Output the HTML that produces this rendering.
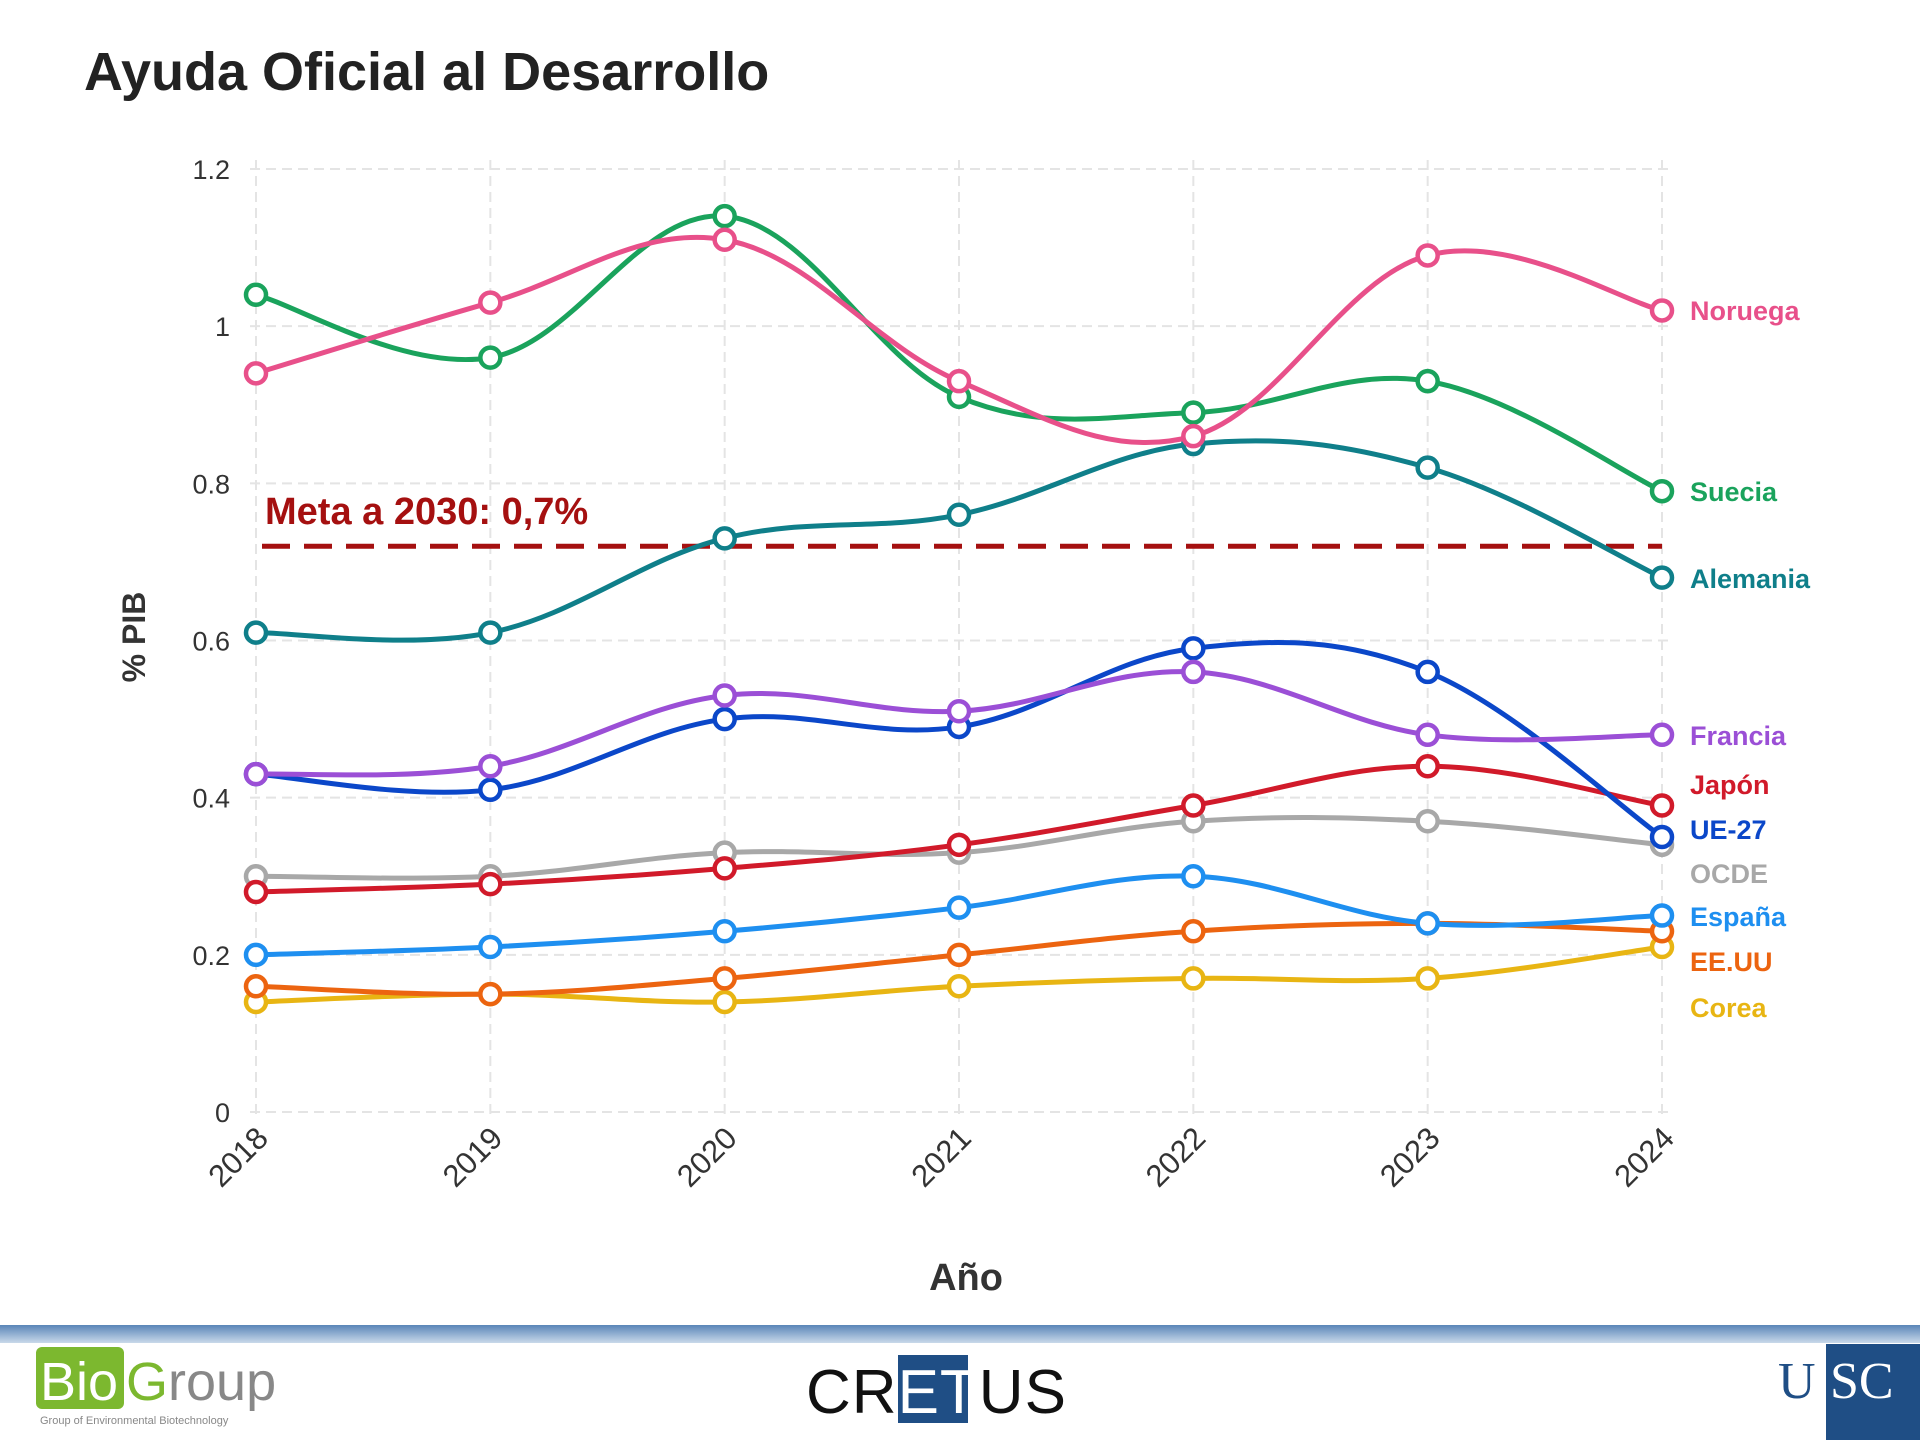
<!DOCTYPE html>
<html><head><meta charset="utf-8"><style>
body{margin:0;background:#fff;width:1920px;height:1440px;overflow:hidden;font-family:"Liberation Sans",sans-serif}
</style></head><body>
<svg width="1920" height="1440" xmlns="http://www.w3.org/2000/svg">
<text x="84" y="90" font-size="54" font-weight="bold" fill="#222">Ayuda Oficial al Desarrollo</text>
<g id="grid"></g><g id="axes"></g><g id="series"></g><g id="labels"></g>
<text transform="translate(145,637) rotate(-90)" text-anchor="middle" font-size="32" font-weight="bold" fill="#333">% PIB</text>
<text x="966" y="1290" text-anchor="middle" font-size="38" font-weight="bold" fill="#333">Año</text>
<defs><linearGradient id="band" x1="0" y1="0" x2="0" y2="1"><stop offset="0" stop-color="#5a85b8"/><stop offset="1" stop-color="#c9d9ea"/></linearGradient></defs>
<rect x="0" y="1325" width="1920" height="18" fill="url(#band)"/>
<g>
<rect x="36" y="1347" width="88" height="62" rx="6" fill="#7cb82f"/>
<text x="40" y="1400" font-size="54" fill="#fff">Bio</text>
<text x="126" y="1400" font-size="54" fill="#888"><tspan fill="#7cb82f">G</tspan>roup</text>
<text x="40" y="1424" font-size="11" fill="#888">Group of Environmental Biotechnology</text></g>
<g>
<rect x="898" y="1355" width="70" height="68" fill="#1f4e85"/>
<text x="806" y="1413" font-size="62" fill="#111" letter-spacing="1">CR<tspan fill="#fff">ET</tspan>US</text></g>
<g>
<rect x="1826" y="1344" width="94" height="96" fill="#1f4e85"/>
<text x="1778" y="1398" font-size="52" font-family="Liberation Serif" fill="#1f4e85">U</text>
<text x="1830" y="1398" font-size="52" font-family="Liberation Serif" fill="#fff">SC</text></g>
</svg>
<script>
const years=["2018","2019","2020","2021","2022","2023","2024"];
const yTicks=[0,0.2,0.4,0.6,0.8,1,1.2];
const yTickLabels=["0","0.2","0.4","0.6","0.8","1","1.2"];
const noruega=[0.94,1.03,1.11,0.93,0.86,1.09,1.02];
const suecia=[1.04,0.96,1.14,0.91,0.89,0.93,0.79];
const alemania=[0.61,0.61,0.73,0.76,0.85,0.82,0.68];
const francia=[0.43,0.44,0.53,0.51,0.56,0.48,0.48];
const ue27=[0.43,0.41,0.50,0.49,0.59,0.56,0.35];
const japon=[0.28,0.29,0.31,0.34,0.39,0.44,0.39];
const ocde=[0.30,0.30,0.33,0.33,0.37,0.37,0.34];
const espana=[0.20,0.21,0.23,0.26,0.30,0.24,0.25];
const eeuu=[0.16,0.15,0.17,0.20,0.23,0.24,0.23];
const corea=[0.14,0.15,0.14,0.16,0.17,0.17,0.21];
const meta=0.72;
const NS="http://www.w3.org/2000/svg";
const X=i=>256+i*(1662-256)/6, Y=v=>1112-v*(1112-169)/1.2;
function mk(t,a,p){const e=document.createElementNS(NS,t);for(const k in a)e.setAttribute(k,a[k]);p.appendChild(e);return e;}
const grid=document.getElementById('grid'),axes=document.getElementById('axes');
yTicks.forEach((v,i)=>{
 const l=mk('line',{x1:250,x2:1672,y1:Y(v),y2:Y(v),stroke:'#e4e4e4','stroke-width':2,'stroke-dasharray':'10,6'},grid);
 
 
 const t=mk('text',{x:230,y:Y(v)+10,'text-anchor':'end','font-size':27,fill:'#333'},axes);t.textContent=yTickLabels[i];
 
 
});
years.forEach((y,i)=>{
 const l=mk('line',{x1:X(i),x2:X(i),y1:160,y2:1115,stroke:'#e4e4e4','stroke-width':2,'stroke-dasharray':'10,6'},grid);
 
 
 const t=mk('text',{transform:`translate(${X(i)+14},${1140}) rotate(-45)`,'text-anchor':'end','font-size':31,fill:'#333'},axes);t.textContent=y;
 
 
});
const ml=mk('line',{x1:262,x2:1662,y1:Y(meta),y2:Y(meta),stroke:'#a51010','stroke-width':5,'stroke-dasharray':'28,14'},axes);


const mt=mk('text',{x:265,y:Y(meta)-22,'font-size':38,'font-weight':'bold',fill:'#a51010'},axes);mt.textContent='Meta a 2030: 0,7%';


const series=[
 ['Noruega',noruega,'#e8508a',310],['Suecia',suecia,'#1aa35c',491],['Alemania',alemania,'#0f7f8a',578],
 ['Francia',francia,'#9b4fd6',735],['UE-27',ue27,'#0b47c9',829],['Japón',japon,'#d11a2a',784],
 ['OCDE',ocde,'#a8a8a8',873],['España',espana,'#1e8ff0',916],['EE.UU',eeuu,'#ec6410',961],['Corea',corea,'#e8b513',1007]];
const sg=document.getElementById('series'),lg=document.getElementById('labels');
function spline(p){let d=`M${p[0][0]},${p[0][1]}`;for(let i=0;i<p.length-1;i++){const p0=p[i-1]||p[i],p1=p[i],p2=p[i+1],p3=p[i+2]||p2,k=0.18;
 d+=` C${p1[0]+(p2[0]-p0[0])*k},${p1[1]+(p2[1]-p0[1])*k} ${p2[0]-(p3[0]-p1[0])*k},${p2[1]-(p3[1]-p1[1])*k} ${p2[0]},${p2[1]}`;}return d;}
series.slice().reverse().forEach(([n,vals,c,ly])=>{
 const pts=vals.map((v,i)=>[X(i),Y(v)]);
 const g=mk('g',{},sg);
 
 
 mk('path',{d:spline(pts),fill:'none',stroke:c,'stroke-width':5},g);
 pts.forEach(p=>{const ci=mk('circle',{cx:p[0],cy:p[1],r:10,fill:'#fff',stroke:c,'stroke-width':4.5},g);
  
  });
 const t=mk('text',{x:1690,y:ly+10,'font-size':27,'font-weight':'bold',fill:c},lg);t.textContent=n;
 
 
});
</script>
</body></html>
